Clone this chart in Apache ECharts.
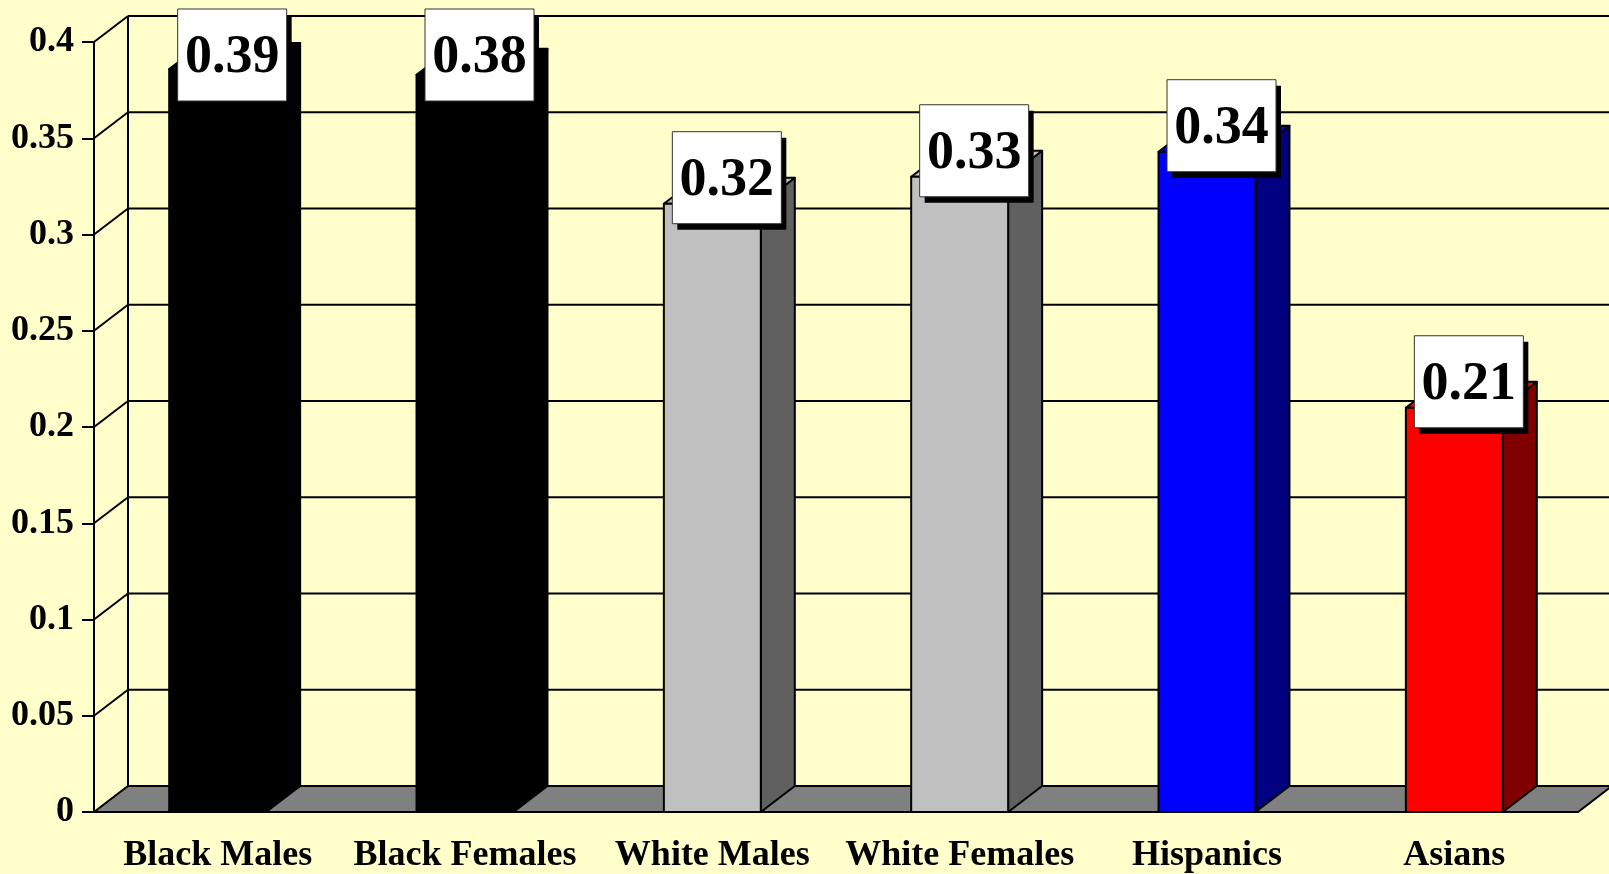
<!DOCTYPE html>
<html>
<head>
<meta charset="utf-8">
<script src="https://cdn.jsdelivr.net/npm/echarts@6/dist/echarts.min.js"></script>
<style>
	html, body { margin: 0; padding: 0; background: #FFFFCC; }
	#main { width: 1609px; height: 874px; }
</style>
</head>
<body>
<div id="main"></div>
<script>
//数据
var categories = ['Black Males', 'Black Females', 'White Males', 'White Females', 'Hispanics', 'Asians'];
var values = [0.386, 0.383, 0.316, 0.330, 0.343, 0.210];
var yTicks = [0, 0.05, 0.1, 0.15, 0.2, 0.25, 0.3, 0.35, 0.4];

//颜色
var frontColors = ['#000000', '#000000', '#C0C0C0', '#C0C0C0', '#0000FF', '#FF0000'];
var sideColors = ['#000000', '#000000', '#606060', '#606060', '#000080', '#800000'];

// 3D 深度偏移
var DX = 34, DY = -26;
var SERIF = '"Liberation Serif", "Times New Roman", serif';

//墙和地板
function renderWall(params, api) {
	var v = api.value(1);
	var cs = params.coordSys;
	var left = cs.x, right = cs.x + cs.width;
	var y = api.coord([0, v])[1];
	var y0 = api.coord([0, 0])[1];
	var line = { stroke: '#000', lineWidth: 2 };
	var children = [];
	if (v === 0) {
		children.push({
			type: 'polygon',
			shape: { points: [[left, y], [right, y], [right + DX, y + DY], [left + DX, y + DY]] },
			style: { fill: '#808080', stroke: '#000', lineWidth: 2 }
		});
	} else {
		children.push({
			type: 'line',
			shape: { x1: left + DX, y1: y + DY, x2: right + DX + 10, y2: y + DY },
			style: line
		});
		children.push({
			type: 'line',
			shape: { x1: left, y1: y, x2: left + DX, y2: y + DY },
			style: line
		});
	}
	if (v === yTicks[yTicks.length - 1]) {
		children.push({
			type: 'line',
			shape: { x1: left + DX, y1: y + DY, x2: left + DX, y2: y0 + DY },
			style: line
		});
	}
	return { type: 'group', children: children };
}

//柱子
function renderBar(params, api) {
	var i = api.value(0);
	var base = api.coord([i, 0]);
	var top = api.coord([i, api.value(1)]);
	var w = api.size([1, 0])[0] * 0.392;
	var xl = base[0] - w / 2, xr = base[0] + w / 2;
	var ty = top[1], by = base[1];
	var edge = { stroke: '#000', lineWidth: 2, lineJoin: 'round' };
	return {
		type: 'group',
		children: [{
			type: 'polygon',
			shape: { points: [[xr, ty], [xr + DX, ty + DY], [xr + DX, by + DY], [xr, by]] },
			style: Object.assign({ fill: sideColors[i] }, edge)
		}, {
			type: 'polygon',
			shape: { points: [[xl, ty], [xl + DX, ty + DY], [xr + DX, ty + DY], [xr, ty]] },
			style: Object.assign({ fill: frontColors[i] }, edge)
		}, {
			type: 'rect',
			shape: { x: xl, y: ty, width: w, height: by - ty },
			style: Object.assign({ fill: frontColors[i] }, edge)
		}]
	};
}

//数值标签
function renderLabel(params, api) {
	var i = api.value(0);
	var v = api.value(1);
	var top = api.coord([i, v]);
	var bw = 109, bh = 92;
	var cx = top[0] + 14.5;
	var by = Math.max(9, top[1] + DY - bh / 2);
	var bx = cx - bw / 2;
	return {
		type: 'group',
		children: [{
			type: 'rect',
			shape: { x: bx + 5, y: by + 6, width: bw, height: bh },
			style: { fill: '#000' }
		}, {
			type: 'rect',
			shape: { x: bx, y: by, width: bw, height: bh },
			style: { fill: '#fff', stroke: '#333', lineWidth: 1 }
		}, {
			type: 'text',
			style: {
				text: v.toFixed(2),
				x: cx,
				y: by + bh / 2 + 3,
				align: 'center',
				verticalAlign: 'middle',
				fontFamily: SERIF,
				fontWeight: 'bold',
				fontSize: 54,
				fill: '#000'
			}
		}]
	};
}

var myChart = echarts.init(document.getElementById('main'));
var barData = values.map(function(v, i) {
	return [i, v];
});
var option = {
	backgroundColor: '#FFFFCC',
	animation: false,
	grid: {
		left: 94,
		right: 31,
		top: 42,
		bottom: 61
	},
	xAxis: {
		type: 'category',
		data: categories,
		axisLine: { lineStyle: { color: '#000', width: 2 } },
		axisTick: { length: 11, lineStyle: { color: '#000', width: 2 } },
		axisLabel: {
			color: '#000',
			fontFamily: SERIF,
			fontWeight: 'bold',
			fontSize: 36,
			margin: 26,
			interval: 0
		},
		splitLine: { show: false }
	},
	yAxis: {
		type: 'value',
		min: 0,
		max: 0.4,
		interval: 0.05,
		axisLine: { show: true, lineStyle: { color: '#000', width: 2 } },
		axisTick: { show: true, length: 12, lineStyle: { color: '#000', width: 2 } },
		axisLabel: {
			color: '#000',
			fontFamily: SERIF,
			fontWeight: 'bold',
			fontSize: 36,
			margin: 20
		},
		splitLine: { show: false }
	},
	series: [{
		type: 'custom',
		name: 'walls',
		clip: false,
		z: 1,
		renderItem: renderWall,
		data: yTicks.map(function(t) {
			return [0, t];
		})
	}, {
		type: 'custom',
		name: 'bars',
		clip: false,
		z: 2,
		renderItem: renderBar,
		data: barData
	}, {
		type: 'custom',
		name: 'labels',
		clip: false,
		z: 3,
		renderItem: renderLabel,
		data: barData
	}]
};
myChart.setOption(option);
</script>
</body>
</html>
